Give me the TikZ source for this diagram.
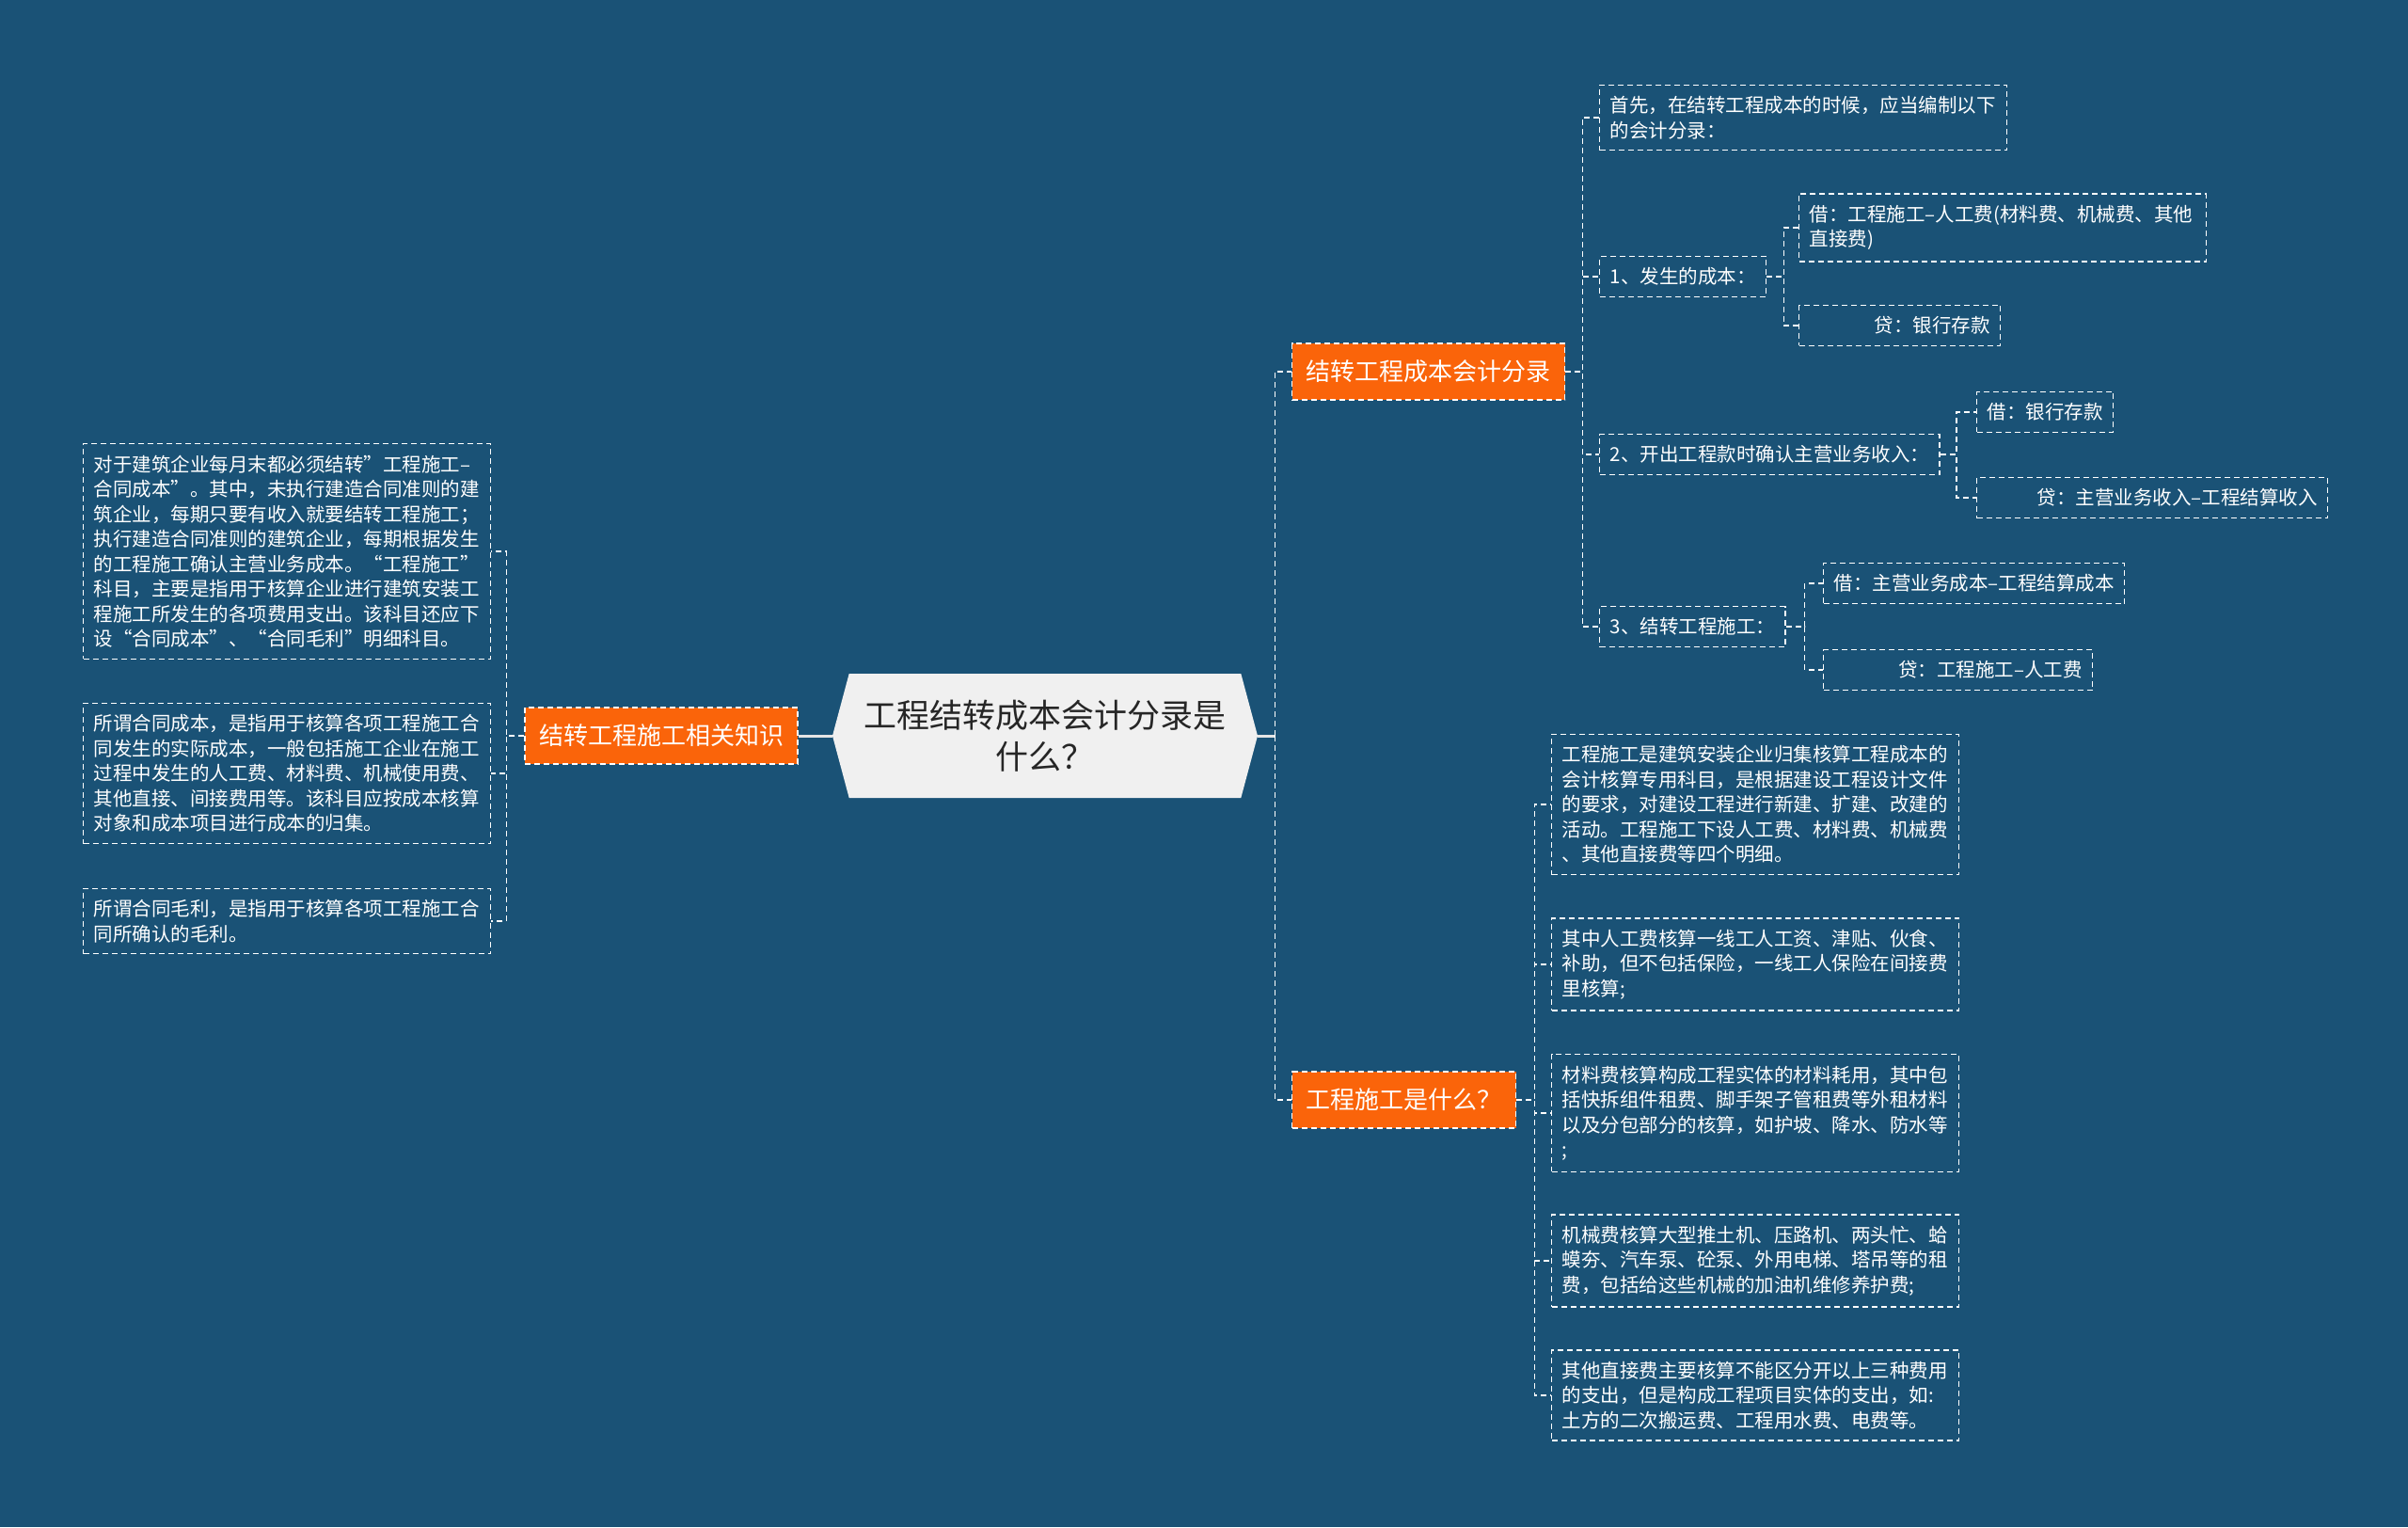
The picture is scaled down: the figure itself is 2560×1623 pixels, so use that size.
\documentclass[tikz,border=0pt]{standalone}
\usepackage{fontspec}
\setmainfont{Noto Sans CJK SC}
\usetikzlibrary{shapes.symbols}
\definecolor{bgblue}{RGB}{26,82,118}
\definecolor{mmorange}{RGB}{250,100,10}
\definecolor{rootgray}{RGB}{240,240,240}

\begin{document}
\begin{tikzpicture}[x=1pt, y=-1pt,
  every node/.style={font=\fontsize{20.5}{26.5}\selectfont, text=white},
  leaf/.style={draw=white, line width=1.4pt, dash pattern=on 6pt off 4pt, align=left, inner xsep=11pt, inner ysep=12pt, anchor=west},
  para/.style={leaf, text width=411pt},
  topic/.style={draw=white, fill=mmorange, line width=1.4pt, dash pattern=on 6pt off 4pt, font=\fontsize{26}{30}\selectfont, inner xsep=15pt, inner ysep=18pt},
  link/.style={white, line width=1.4pt, dash pattern=on 6pt off 4pt},
  trunk/.style={white!90!black, line width=3pt}]
% Canvas
\fill[bgblue] (0,0) rectangle (2560,1623);
% Root and main topics
\node[signal, signal to=east and west, signal pointer angle=150, fill=rootgray, text=black!85, font=\fontsize{35}{44}\selectfont, align=center, minimum width=452pt, minimum height=132pt] (root) at (1111,782) {工程结转成本会计分录是\\什么？};
\node[topic] (lknow) at (703,782) {结转工程施工相关知识};
\node[topic, anchor=west] (rentry) at (1373,395) {结转工程成本会计分录};
\node[topic, anchor=west] (rwhat) at (1373,1169) {工程施工是什么？};
% Left side notes
\node[para] (la) at (88,586) {对于建筑企业每月末都必须结转"工程施工–\\合同成本"。其中，未执行建造合同准则的建\\筑企业，每期只要有收入就要结转工程施工；\\执行建造合同准则的建筑企业，每期根据发生\\的工程施工确认主营业务成本。“工程施工”\\科目，主要是指用于核算企业进行建筑安装工\\程施工所发生的各项费用支出。该科目还应下\\设“合同成本”、“合同毛利”明细科目。};
\node[para] (lb) at (88,822) {所谓合同成本，是指用于核算各项工程施工合\\同发生的实际成本，一般包括施工企业在施工\\过程中发生的人工费、材料费、机械使用费、\\其他直接、间接费用等。该科目应按成本核算\\对象和成本项目进行成本的归集。};
\node[para] (lc) at (88,979) {所谓合同毛利，是指用于核算各项工程施工合\\同所确认的毛利。};
% Entries
\node[para] (ra) at (1700,125) {首先，在结转工程成本的时候，应当编制以下\\的会计分录：};
\node[leaf] (rb) at (1700,294) {1、发生的成本：};
\node[leaf] (rc) at (1700,483) {2、开出工程款时确认主营业务收入：};
\node[leaf] (rd) at (1700,666) {3、结转工程施工：};
\node[para] (rb1) at (1912,242) {借：工程施工–人工费(材料费、机械费、其他\\直接费)};
\node[leaf, text width=192pt, align=right] (rb2) at (1912,346) {贷：银行存款};
\node[leaf] (rc1) at (2101,438) {借：银行存款};
\node[leaf, text width=351pt, align=right] (rc2) at (2101,529) {贷：主营业务收入–工程结算收入};
\node[leaf] (rd1) at (1938,620) {借：主营业务成本–工程结算成本};
\node[leaf, text width=264pt, align=right] (rd2) at (1938,712) {贷：工程施工–人工费};
% What is it
\node[para] (wa) at (1649,855) {工程施工是建筑安装企业归集核算工程成本的\\会计核算专用科目，是根据建设工程设计文件\\的要求，对建设工程进行新建、扩建、改建的\\活动。工程施工下设人工费、材料费、机械费\\、其他直接费等四个明细。};
\node[para] (wb) at (1649,1025) {其中人工费核算一线工人工资、津贴、伙食、\\补助，但不包括保险，一线工人保险在间接费\\里核算;};
\node[para] (wc) at (1649,1183) {材料费核算构成工程实体的材料耗用，其中包\\括快拆组件租费、脚手架子管租费等外租材料\\以及分包部分的核算，如护坡、降水、防水等\\;};
\node[para] (wd) at (1649,1340) {机械费核算大型推土机、压路机、两头忙、蛤\\蟆夯、汽车泵、砼泵、外用电梯、塔吊等的租\\费，包括给这些机械的加油机维修养护费;};
\node[para] (we) at (1649,1483) {其他直接费主要核算不能区分开以上三种费用\\的支出，但是构成工程项目实体的支出，如:\\土方的二次搬运费、工程用水费、电费等。};
% Connectors
\draw[trunk] (root.west) -- (lknow.east);
\draw[trunk] (root.east) -- ++(18,0);
\foreach \n in {rentry,rwhat} \draw[link] (root.east) ++(18,0) |- (\n.west);
\foreach \n in {la,lb,lc} \draw[link] (lknow.west) -- ++(-19,0) |- (\n.east);
\foreach \n in {ra,rb,rc,rd} \draw[link] (rentry.east) -- ++(18,0) |- (\n.west);
\foreach \n in {rb1,rb2} \draw[link] (rb.east) -- ++(18,0) |- (\n.west);
\foreach \n in {rc1,rc2} \draw[link] (rc.east) -- ++(17,0) |- (\n.west);
\foreach \n in {rd1,rd2} \draw[link] (rd.east) -- ++(20,0) |- (\n.west);
\foreach \n in {wa,wb,wc,wd,we} \draw[link] (rwhat.east) -- ++(19,0) |- (\n.west);
\end{tikzpicture}
\end{document}
